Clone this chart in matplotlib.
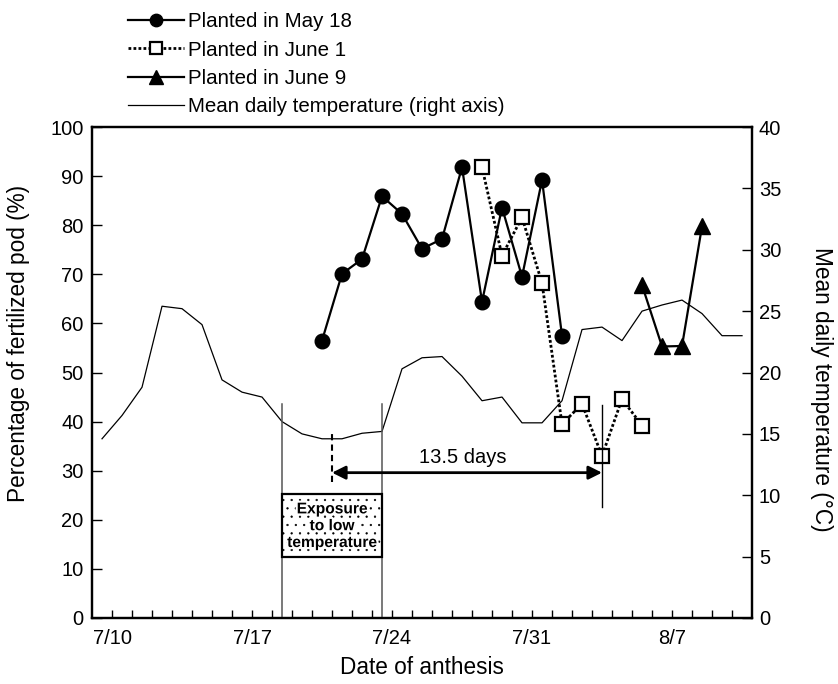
import numpy as np
import matplotlib.pyplot as plt
import matplotlib.patheffects as pe
from matplotlib.patches import Rectangle

plt.rcParams['font.family'] = ['Liberation Sans', 'DejaVu Sans']
plt.rcParams['font.size'] = 14.5
plt.rcParams['hatch.linewidth'] = 0.4

# x = day index, 0 = 7/9 (points sit between the daily tick marks)
temp_day = list(range(33))
temp = [14.6, 16.5, 18.8, 25.4, 25.2, 23.9, 19.4, 18.4, 18.0, 16.0, 15.0,
        14.6, 14.6, 15.05, 15.2, 20.3, 21.2, 21.3, 19.7, 17.7, 18.0, 15.9,
        15.9, 17.7, 23.5, 23.7, 22.6, 25.0, 25.5, 25.9, 24.8, 23.0, 23.0]

may18_day = [11, 12, 13, 14, 15, 16, 17, 18, 19, 20, 21, 22, 23]
may18 = [56.5, 70.1, 73.1, 85.9, 82.3, 75.2, 77.2, 91.8, 64.4, 83.6, 69.5, 89.2, 57.5]

june1_day = [19, 20, 21, 22, 23, 24, 25, 26, 27]
june1 = [91.8, 73.8, 81.6, 68.2, 39.5, 43.6, 33.0, 44.6, 39.2]

june9_day = [27, 28, 29, 30]
june9 = [67.8, 55.3, 55.4, 79.8]

date_labels = ['7/10', '7/17', '7/24', '7/31', '8/7']

fig = plt.figure(figsize=(8.38, 6.84), dpi=100)
ax = fig.add_axes([0.1098, 0.0965, 0.7876, 0.7178])
ax2 = ax.twinx()
ax.set_zorder(ax2.get_zorder() + 1)
ax.patch.set_visible(False)

# temperature on right axis
t_line, = ax2.plot(temp_day, temp, color='black', lw=0.9)
ax2.set_ylim(0, 40)
ax2.set_yticks(np.arange(0, 41, 5))

# fertilized pod series
l1, = ax.plot(may18_day, may18, color='black', lw=1.6, marker='o',
              ms=10.5, mfc='black', mec='black')
l2, = ax.plot(june1_day, june1, color='black', lw=2, ls=(0, (1, 0.8)),
              marker='s', ms=9.5, mfc='white', mec='black', mew=1.6)
l3, = ax.plot(june9_day, june9, color='black', lw=1.6, marker='^',
              ms=11.5, mfc='black', mec='black')

ax.set_xlim(-0.5, 32.5)
ax.set_ylim(0, 100)
ax.set_yticks(np.arange(0, 101, 10))

ticks = np.arange(0.5, 32.5, 1)
labels = [''] * len(ticks)
for i, lab in enumerate(date_labels):
    labels[i * 7] = lab
ax.set_xticks(ticks)
ax.set_xticklabels(labels)

for a in (ax, ax2):
    for s in a.spines.values():
        s.set_linewidth(1.6)
ax.tick_params(axis='x', direction='in', length=6, width=1, pad=8)
ax.tick_params(axis='y', direction='in', length=7, width=1, pad=6)
ax2.tick_params(axis='y', direction='in', length=7, width=1, pad=5)

# low temperature period markers
ax.plot([9, 9], [0, 43.6], color='#555555', lw=1.1)
ax.plot([14, 14], [0, 43.6], color='#555555', lw=1.1)
ax.plot([11.5, 11.5], [27.8, 38.3], color='black', lw=1.5, ls=(0, (3, 2)))
ax.plot([25, 25], [22.7, 43.4], color='black', lw=1)

ax.annotate('', xy=(25, 29.6), xytext=(11.5, 29.6),
            arrowprops=dict(arrowstyle='<|-|>', color='black', lw=2,
                            mutation_scale=20, shrinkA=0, shrinkB=0))
ax.text(18.05, 32.6, '13.5 days', ha='center', va='center', fontsize=14.5)

box = Rectangle((9, 12.4), 5, 12.8, facecolor='white', edgecolor='black',
                hatch='..', lw=1.6, zorder=3)
ax.add_patch(box)
ax.text(11.5, 18.8, 'Exposure\nto low\ntemperature', ha='center', va='center',
        fontsize=11.2, fontweight='bold', linespacing=1.15, zorder=4,
        path_effects=[pe.withStroke(linewidth=3, foreground='white')])

ax.set_ylabel('Percentage of fertilized pod (%)', fontsize=16.3)
ax.yaxis.set_label_coords(-0.094, 0.56)
ax2.set_ylabel('Mean daily temperature (°C)', rotation=270, va='bottom',
               fontsize=16.3)
ax2.yaxis.set_label_coords(1.088, 0.465)
ax.set_xlabel('Date of anthesis', fontsize=16.3, labelpad=6)

fig.legend([l1, l2, l3, t_line],
           ['Planted in May 18', 'Planted in June 1', 'Planted in June 9',
            'Mean daily temperature (right axis)'],
           loc='upper left', bbox_to_anchor=(0.141, 0.997), frameon=False,
           borderpad=0, handlelength=2.7, handletextpad=0.2,
           labelspacing=0.45, markerscale=0.85, fontsize=14.8)

fig.savefig('out.png', dpi=100)
